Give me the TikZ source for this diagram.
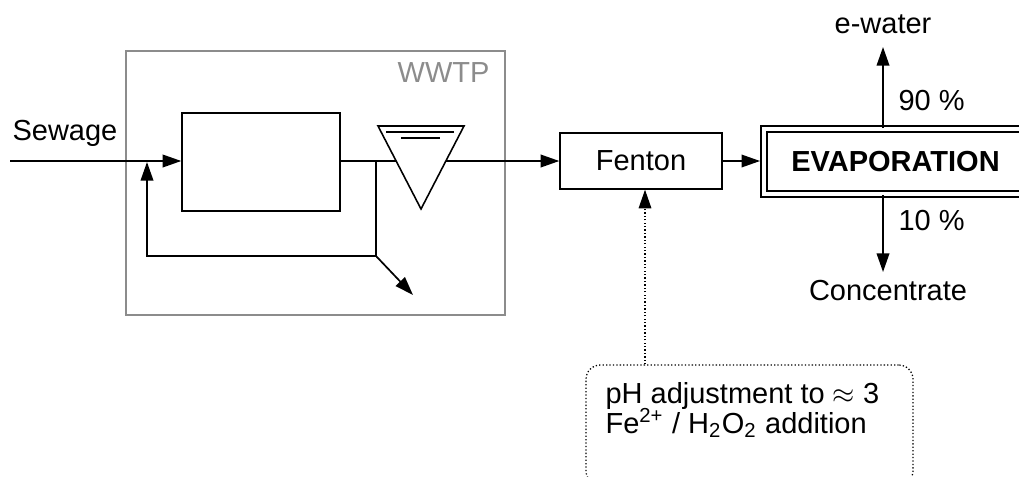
\documentclass[tikz,border=0pt]{standalone}
\usepackage{fontspec}
\setmainfont{Liberation Sans}
\usetikzlibrary{arrows.meta,positioning}

\begin{document}
\begin{tikzpicture}[
    x=0.35pt, y=-0.35pt,
    font=\fontsize{10.15}{12}\selectfont,
    box/.style={draw, line width=0.5pt, inner sep=0pt},
    evapbox/.style={draw, line width=0.7pt, double, double distance=1.4pt, inner sep=0pt, font=\fontsize{10.15}{12}\selectfont\bfseries},
    chembox/.style={draw, line width=0.45pt, dash pattern=on 0.45pt off 0.75pt, rounded corners=5pt},
    plantbox/.style={draw=black!45, line width=0.7pt},
    arrow/.style={-{Triangle[length=6.5pt,width=4.4pt]}, line width=0.6pt},
    dotarrow/.style={-{Triangle[length=6.5pt,width=4.4pt]}, line width=0.45pt, dash pattern=on 0.45pt off 0.75pt},
    flow/.style={line width=0.6pt},
    lbl/.style={inner sep=0pt}
]
\path[use as bounding box, clip] (0,0) rectangle (1019,476);

% treatment plant
\draw[plantbox] (126,51) rectangle (505,315);
\node[lbl, anchor=base east, text=black!45] (wwtp) at (490,82) {WWTP};
\node[box, minimum width=55.3pt, minimum height=34.3pt] (aer) at (261,162) {};
\node[box, minimum width=56.7pt, minimum height=19.6pt] (fenton) at (641,161) {Fenton};
\node[evapbox, minimum width=92.3pt, minimum height=22.75pt] (evap) at (895.5,161.5) {EVAPORATION};
\node[chembox, minimum width=114.45pt, minimum height=42pt] (chem) at (749.5,425) {};

\coordinate (sewin) at (10,161);
\coordinate (split) at (376,161);
\coordinate (ret) at (376,256);
\coordinate (rectip) at (147,162);
\coordinate (wastetip) at (413,295);
\coordinate (ewtip) at (883,47);
\coordinate (conctip) at (883,272);

% main line
\draw[arrow] (sewin) -- (sewin -| aer.west);
\draw[arrow] (aer.east |- sewin) -- (sewin -| fenton.west);
\draw[arrow, shorten >=0.9pt] (fenton.east) -- (fenton.east -| evap.west);
\draw[flow] (split) -- (ret);
\draw[arrow] (ret) -- (ret -| rectip) -- (rectip);
\draw[arrow] (ret) -- (wastetip);

% clarifier
\draw[line width=0.55pt, fill=white] (378,126) -- (464,126) -- (421,209) -- cycle;
\draw[line width=0.55pt] (386,132) -- (454,132);
\draw[line width=0.55pt] (401,138) -- (440,138);

% evaporation outputs
\draw[arrow] (ewtip |- evap.north) -- (ewtip);
\draw[arrow] (conctip |- evap.south) -- (conctip);
\draw[dotarrow] ([xshift=1.4pt]fenton.south |- chem.north) -- ([xshift=1.4pt]fenton.south);

% labels
\node[lbl, anchor=base west] (sew) at (12,140) {Sewage};
\node[lbl, anchor=base] (ewater) at (883,33) {e-water};
\node[lbl, anchor=base west] (up) at (898,110) {90 \%};
\node[lbl, anchor=base west] (down) at (898,230) {10 \%};
\node[lbl, anchor=base] (conc) at (888,300) {Concentrate};
\node[lbl, anchor=base west] (ph) at (605,403) {pH adjustment to $\approx$ 3};
\node[lbl, anchor=base west] (fe) at (605,433) {Fe\textsuperscript{2+} / H\textsubscript{2}O\textsubscript{2} addition};
\end{tikzpicture}
\end{document}
